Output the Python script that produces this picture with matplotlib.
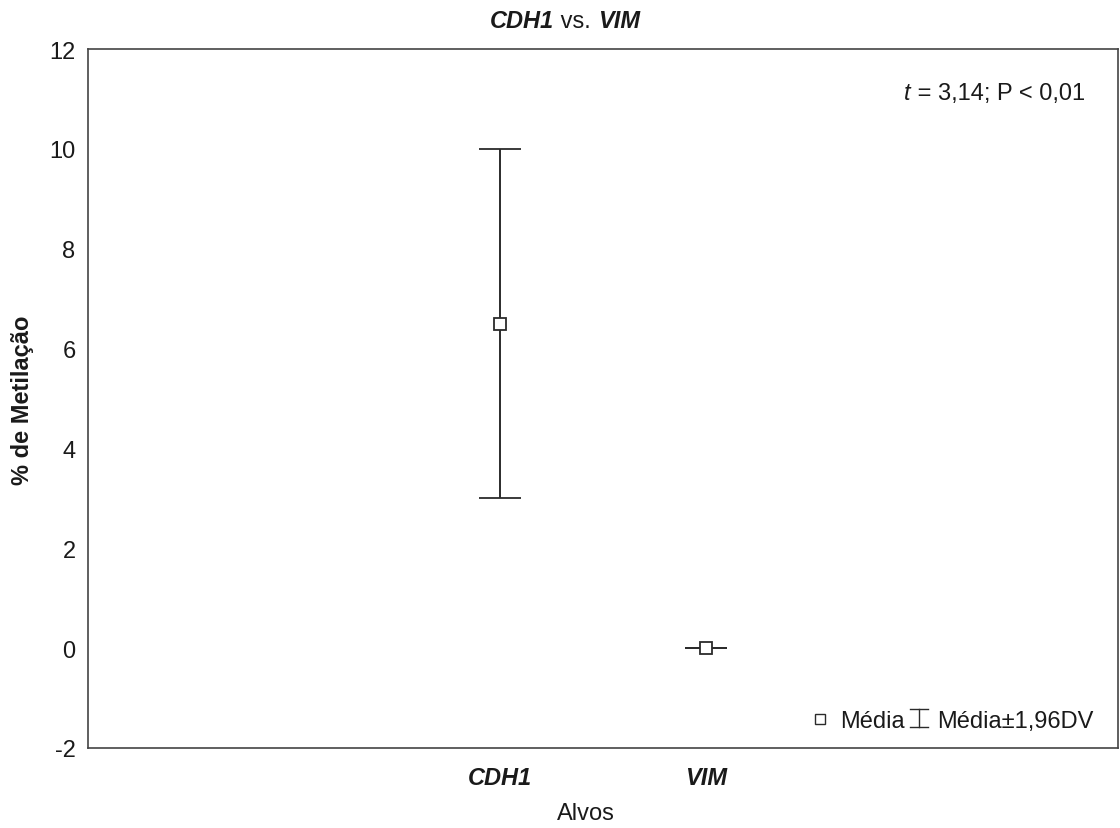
import matplotlib
matplotlib.use("Agg")
import matplotlib.pyplot as plt
import numpy as np

# ---- data ----
categories = ["CDH1", "VIM"]
means = [6.5, 0.0]
err_196sd = [3.5, 0.0]
y_ticks = [-2, 0, 2, 4, 6, 8, 10, 12]

title_parts = [("CDH1", "italic", "bold"), (" vs. ", "normal", "normal"), ("VIM", "italic", "bold")]
stat_text = " = 3,14; P < 0,01"
x_label = "Alvos"
y_label = "% de Metilação"
legend_mean = "Média"
legend_err = "Média±1,96DV"

plt.rcParams['font.family'] = ['Liberation Sans', 'DejaVu Sans']
W, H = 1120, 829
FS = 17
fig = plt.figure(figsize=(W / 100, H / 100), dpi=100)
ax = fig.add_axes([88 / W, (H - 749) / H, (1118 - 88) / W, (749 - 50) / H])

dark = "#2b2b2b"
txtc = "#1a1a1a"
x = np.arange(len(categories))
ax.errorbar(x, means, yerr=err_196sd, fmt='s', ms=8.2, mfc='white', mec=dark, mew=1.3,
            ecolor=dark, elinewidth=1.4, capsize=14.8, capthick=1.4, zorder=3)

ax.set_xlim(x[0] - 2, x[-1] + 2)
ax.set_ylim(-2, 12)
ax.set_yticks(y_ticks)
ax.set_yticklabels([str(v) for v in y_ticks])
ax.set_xticks(x)
ax.set_xticklabels(categories, fontstyle='italic', fontweight='bold')
ax.tick_params(axis='both', length=0, labelsize=FS, colors=txtc)
ax.tick_params(axis='y', pad=9)
ax.tick_params(axis='x', pad=13)
for s in ax.spines.values():
    s.set_color('#444444')
    s.set_linewidth(1.2)

ax.set_xlabel(x_label, fontsize=FS, color=txtc)
ax.set_ylabel(y_label, fontsize=FS, fontweight='bold', color=txtc)
ax.xaxis.set_label_coords((586 - 88) / 1030, -(814 - 749) / 699)
ax.xaxis.label.set_va('center')
ax.yaxis.set_label_coords(-(88 - 23) / 1030, (749 - 400) / 699)
ax.yaxis.label.set_va('center')

fig.canvas.draw()
renderer = fig.canvas.get_renderer()

# ---- title with mixed styles ----
tmp = []
widths = []
for txt, st, wt in title_parts:
    t = fig.text(0, 0, txt, fontsize=FS, fontstyle=st, fontweight=wt)
    widths.append(t.get_window_extent(renderer).width)
    tmp.append(t)
for t in tmp:
    t.remove()
total = sum(widths)
cur = 565 - total / 2
ybase = (H - 28) / H
for (txt, st, wt), w in zip(title_parts, widths):
    fig.text(cur / W, ybase, txt, fontsize=FS, fontstyle=st, fontweight=wt,
             va='baseline', ha='left', color=txtc)
    cur += w

# ---- statistic text ----
st2 = fig.text(1085 / W, (H - 100) / H, stat_text, fontsize=FS, ha='right', va='baseline', color=txtc)
st2w = st2.get_window_extent(renderer).width
fig.text((1085 - st2w) / W, (H - 100) / H, "t", fontsize=FS, fontstyle='italic',
         ha='right', va='baseline', color=txtc)

# ---- legend (manual) ----
yb = (H - 728) / H
ax_l = fig.add_axes([0, 0, 1, 1], facecolor='none')
ax_l.set_xlim(0, W)
ax_l.set_ylim(H, 0)
ax_l.axis('off')
ax_l.plot([820], [719.5], marker='s', ms=7, mfc='white', mec=dark, mew=1.0, ls='none')
fig.text(840 / W, yb, legend_mean, fontsize=FS, ha='left', va='baseline', color=txtc)
ax_l.plot([919, 919], [710, 728], color=dark, lw=1.0)
ax_l.plot([910, 928], [710, 710], color=dark, lw=1.0)
ax_l.plot([910, 928], [728, 728], color=dark, lw=1.0)
fig.text(937 / W, yb, legend_err, fontsize=FS, ha='left', va='baseline', color=txtc)

fig.savefig("out.png", dpi=100, facecolor='white')
